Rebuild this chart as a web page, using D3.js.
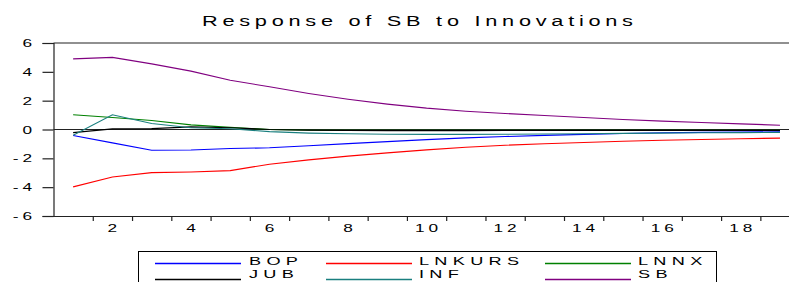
<!DOCTYPE html>
<html>
<head>
<meta charset="utf-8">
<script src="https://cdn.jsdelivr.net/npm/d3@7"></script>
<style>
  html, body { margin: 0; padding: 0; background: #fff; }
  svg { display: block; }
  text { font-family: "Liberation Sans", Arial, sans-serif; fill: #000; }
</style>
</head>
<body>
<svg id="chart" width="789" height="282"></svg>
<script>
const titleText = "Response of SB to Innovations";
const periods = d3.range(1, 20);
const yTicks = [-6, -4, -2, 0, 2, 4, 6];
const xTickLabels = [2, 4, 6, 8, 10, 12, 14, 16, 18];

const BOP    = [-0.42,-0.93,-1.44,-1.42,-1.32,-1.27,-1.13,-0.98,-0.84,-0.70,-0.58,-0.49,-0.41,-0.34,-0.28,-0.23,-0.20,-0.18,-0.16];
const LNKURS = [-3.98,-3.29,-2.99,-2.95,-2.85,-2.41,-2.11,-1.85,-1.62,-1.41,-1.23,-1.09,-0.99,-0.90,-0.82,-0.75,-0.69,-0.64,-0.60];
const LNNX   = [1.02,0.83,0.62,0.32,0.15,0.00,-0.05,-0.06,-0.06,-0.06,-0.05,-0.05,-0.05,-0.05,-0.05,-0.05,-0.05,-0.05,-0.05];
const JUB    = [-0.22,0.04,0.06,0.18,0.12,0.00,-0.05,-0.07,-0.08,-0.08,-0.08,-0.07,-0.07,-0.06,-0.06,-0.06,-0.06,-0.06,-0.06];
const INF    = [-0.40,1.02,0.42,0.12,0.05,-0.15,-0.25,-0.30,-0.33,-0.34,-0.34,-0.33,-0.31,-0.29,-0.27,-0.25,-0.23,-0.22,-0.20];
const SB     = [4.90,5.00,4.55,4.05,3.42,2.96,2.50,2.10,1.76,1.48,1.27,1.11,0.97,0.83,0.69,0.58,0.49,0.39,0.30];

const seriesNames  = ["BOP", "LNKURS", "LNNX", "JUB", "INF", "SB"];
const seriesValues = [BOP, LNKURS, LNNX, JUB, INF, SB];
const seriesColors = ["#0000ff", "#ff0000", "#008000", "#000000", "#1a7f7f", "#800080"];

const svg = d3.select("#chart");
const L = 53.5, T = 43, B = 216;
const bandW = 39.27;
const R = L + 19 * bandW;

const x = d3.scaleLinear().domain([0.5, 19.5]).range([L, R]);
const y = d3.scaleLinear().domain([-6, 6]).range([B, T]);

// stretched text helper (horizontally wide glyphs with letter spacing)
function wideText(parent, px, py, str, size, sx, ls, anchor, tl) {
  const g = parent.append("g").attr("transform", `translate(${px},${py}) scale(${sx},1)`);
  const t = g.append("text").attr("x", 0).attr("y", 0)
    .style("font-size", size + "px")
    .style("letter-spacing", ls + "px")
    .text(str);
  let w;
  if (tl) { t.attr("textLength", tl).attr("lengthAdjust", "spacing"); w = tl; }
  else w = t.node().getComputedTextLength() - ls;
  if (anchor === "middle") t.attr("x", -w / 2);
  else if (anchor === "end") t.attr("x", -w);
  return t;
}

// title
wideText(svg, 417.5, 25.5, titleText, 15, 1.45, 0, "middle", 431 / 1.45);

// frame
const frame = svg.append("g").attr("stroke", "#222").attr("stroke-width", 1.2).attr("fill", "none");
frame.append("line").attr("x1", L).attr("x2", 800).attr("y1", T).attr("y2", T);

// left axis
const yAxis = d3.axisLeft(y).tickValues(yTicks).tickSize(11).tickFormat("");
const gy = svg.append("g").attr("transform", `translate(${L},0)`).call(yAxis);
gy.selectAll("path, line").attr("stroke", "#222").attr("stroke-width", 1.2);
yTicks.forEach(v => wideText(svg, 32, y(v) + 4, String(v), 11.5, 1.5, 2.6, "end"));

// bottom axis: ticks at band boundaries
const boundaries = d3.range(1.5, 20, 1);
const xAxis = d3.axisBottom(x).tickValues(boundaries).tickSize(5).tickFormat("").tickSizeOuter(0);
const gx = svg.append("g").attr("transform", `translate(0,${B})`).call(xAxis);
gx.selectAll("path, line").attr("stroke", "#222").attr("stroke-width", 1.2);
xTickLabels.forEach(v => wideText(svg, x(v), 232, String(v), 11.5, 1.5, 2.6, "middle"));

// zero line
svg.append("line").attr("x1", L).attr("x2", 800).attr("y1", y(0)).attr("y2", y(0))
  .attr("stroke", "#222").attr("stroke-width", 1.2);

// series
const line = d3.line().x((d, i) => x(periods[i])).y(d => y(d));
seriesValues.forEach((vals, k) => {
  svg.append("path").datum(vals)
    .attr("d", line)
    .attr("fill", "none")
    .attr("stroke", seriesColors[k])
    .attr("stroke-width", 1.1);
});

// legend
const lg = svg.append("g");
lg.append("rect").attr("x", 138.5).attr("y", 251.5).attr("width", 578).attr("height", 40)
  .attr("fill", "#fff").attr("stroke", "#000").attr("stroke-width", 1);
const colLine = [155, 326, 545];
const colText = [249, 419, 638];
const rowLineY = [263.5, 279.5];
const rowTextY = [264.5, 278];
seriesNames.forEach((name, k) => {
  const c = k % 3, r = Math.floor(k / 3);
  lg.append("line").attr("x1", colLine[c]).attr("x2", colLine[c] + 86)
    .attr("y1", rowLineY[r]).attr("y2", rowLineY[r])
    .style("stroke", seriesColors[k]).style("stroke-width", 1.5);
  wideText(lg, colText[c], rowTextY[r], name, 11, 1.65, 3.2, "start");
});
</script>
</body>
</html>
